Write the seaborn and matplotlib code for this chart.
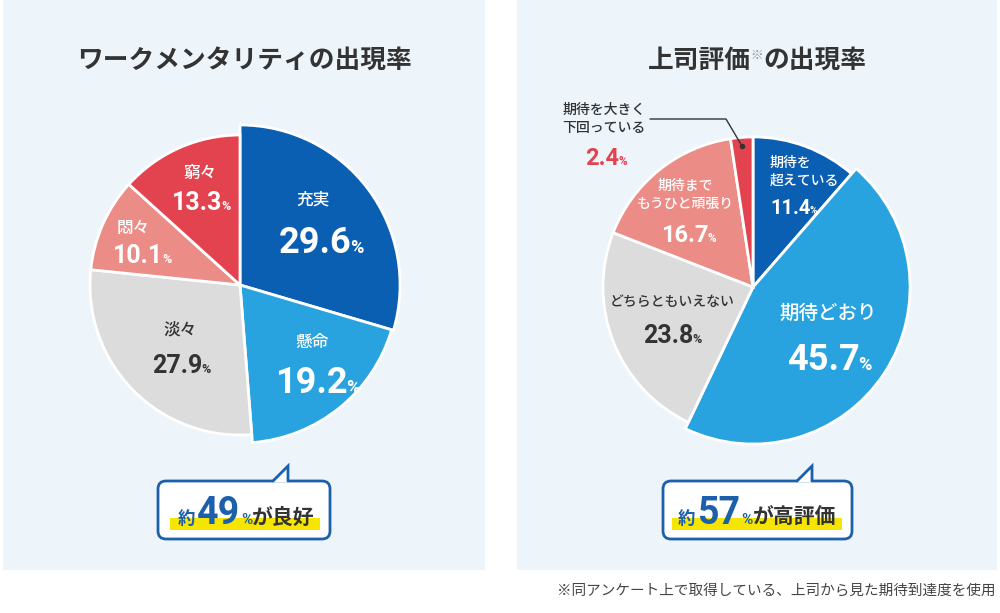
import matplotlib
matplotlib.use('Agg')
import matplotlib.pyplot as plt
from matplotlib.patches import Rectangle, FancyBboxPatch, Polygon
import seaborn as sns

# ---------------- data ----------------
left_title = 'ワークメンタリティの出現率'
left_labels = ['充実', '懸命', '淡々', '悶々', '窮々']
left_values = [29.6, 19.2, 27.9, 10.1, 13.3]

right_title_parts = ['上司評価', '※', 'の出現率']
right_labels = ['期待を\n超えている', '期待どおり', 'どちらともいえない',
                '期待まで\nもうひと頑張り', '期待を大きく\n下回っている']
right_values = [11.4, 45.7, 23.8, 16.7, 2.4]

left_callout = ['約', '49', '%', 'が良好']
right_callout = ['約', '57', '%', 'が高評価']
footnote = '※同アンケート上で取得している、上司から見た期待到達度を使用'

# ---------------- style ----------------
sns.set_theme(style='white')
JP = ['Noto Sans CJK JP', 'DejaVu Sans']
NUMF = ['Roboto', 'DejaVu Sans']
plt.rcParams['font.family'] = JP

palette = sns.color_palette(['#0b5fb3', '#29a3df', '#dcdcdc', '#ec8c87', '#e3434f'])
DARK = '#333333'
BLUE = '#1c5faa'
RED = '#e3434f'
PANEL = '#edf5fb'

W, H = 1000, 613
fig = plt.figure(figsize=(W / 100, H / 100), dpi=100)
fig.patch.set_facecolor('white')
ax = fig.add_axes([0, 0, 1, 1])


def Y(p):
    return H - p


renderer = fig.canvas.get_renderer()


def rich(x, y, parts, ha='center'):
    """parts: (text, props, dy, kern-before)"""
    ts, ws, ks = [], [], []
    for s, kw, dy, k in parts:
        t = ax.text(0, Y(y + dy), s, ha='left', va='baseline', zorder=6, **kw)
        ws.append(t.get_window_extent(renderer).width)
        ts.append(t)
        ks.append(k)
    total = sum(ws) + sum(ks)
    cur = x - total / 2 if ha == 'center' else x
    for t, w, k in zip(ts, ws, ks):
        cur += k
        t.set_x(cur)
        cur += w


# panels
ax.add_patch(Rectangle((3, Y(570)), 482, 570, facecolor=PANEL, edgecolor='none', zorder=0))
ax.add_patch(Rectangle((517, Y(570)), 480, 570, facecolor=PANEL, edgecolor='none', zorder=0))

# ---------------- pies ----------------
wl, _ = ax.pie(left_values, colors=palette, startangle=90, counterclock=False,
               center=(240, Y(285)), radius=150, explode=[0.06, 0.08, 0, 0, 0],
               wedgeprops=dict(edgecolor='white', linewidth=2), frame=True)
wl[0].set_radius(160)
wl[1].set_radius(158)

wr, _ = ax.pie(right_values, colors=palette, startangle=90, counterclock=False,
               center=(753, Y(287)), radius=150, explode=[0.1, 0.1, 0, 0, 0],
               wedgeprops=dict(edgecolor='white', linewidth=2), frame=True)
wr[1].set_radius(157)
for w in list(wl) + list(wr):
    w.set_zorder(2)

ax.set_xlim(0, W)
ax.set_ylim(0, H)
ax.set_aspect('auto')
ax.axis('off')

# ---------------- titles ----------------
tkw = dict(family=JP, weight='bold', fontsize=18.5, color=DARK)
rich(245, 68, [(left_title, tkw, 0, 0)])
rich(757, 68, [(right_title_parts[0], tkw, 0, 0),
               (right_title_parts[1], dict(family=JP, fontsize=9, color='#888888'), -9, 0),
               (right_title_parts[2], tkw, 0, 0)])


# ---------------- slice labels ----------------
def lab(x, y, s, color='white', size=12, ha='center', weight='medium'):
    ax.text(x, Y(y), s, ha=ha, va='center', fontsize=size, color=color,
            family=JP, weight=weight, linespacing=1.35, zorder=6)


def pct(x, y, v, color='white', size=26, ha='center'):
    rich(x, y, [(f'{v}', dict(family=NUMF, weight='bold', fontsize=size, color=color), 0, 0),
                ('%', dict(family=NUMF, weight='bold', fontsize=size * 0.5, color=color), 0,
                 -0.06 * size)],
         ha=ha)


# left
lab(313, 200, left_labels[0])
pct(321, 253, left_values[0], size=26)
lab(312, 342, left_labels[1])
pct(317, 393, left_values[1], size=26)
lab(180, 330, left_labels[2], color=DARK)
pct(181, 373, left_values[2], color=DARK, size=18)
lab(133, 228, left_labels[3])
pct(142, 263, left_values[3], size=18)
lab(200, 173, left_labels[4])
pct(201, 210, left_values[4], size=18)

# right
lab(770, 172, right_labels[0], size=10, ha='left')
pct(770, 214, right_values[0], size=14.5, ha='left')
lab(828, 313, right_labels[1], size=14)
pct(829, 370, right_values[1], size=26)
lab(672, 302, right_labels[2], color=DARK, size=10)
pct(672, 343, right_values[2], color=DARK, size=18)
lab(685, 195, right_labels[3], size=10)
pct(689, 242, right_values[3], size=17)
lab(604, 119, right_labels[4], color=DARK, size=10)
pct(606, 165, right_values[4], color=RED, size=17)

# leader line for the small slice
ax.plot([650, 726, 742], [Y(119), Y(119), Y(146)], color=DARK, lw=1, zorder=5)
ax.plot([742], [Y(146)], 'o', color=DARK, ms=3, zorder=5)


# ---------------- callouts ----------------
def callout(x0, x1, tail_x, parts, cx, hl0, hl1):
    y0, y1 = 481, 539
    ax.add_patch(FancyBboxPatch((x0, Y(y1)), x1 - x0, y1 - y0,
                                boxstyle='round,pad=0,rounding_size=8',
                                facecolor='white', edgecolor=BLUE, lw=2, zorder=3))
    ax.add_patch(Polygon([(tail_x - 15, Y(y0 + 1.5)), (tail_x, Y(466)), (tail_x, Y(y0 + 1.5))],
                         closed=True, facecolor='white', edgecolor='none', zorder=4))
    ax.plot([tail_x - 15, tail_x, tail_x], [Y(y0), Y(466), Y(y0)], color=BLUE, lw=2,
            solid_joinstyle='miter', zorder=4)
    ax.add_patch(Rectangle((hl0, Y(530)), hl1 - hl0, 12, facecolor='#f6e500',
                           edgecolor='none', zorder=4))
    rich(cx, 524, [(parts[0], dict(family=JP, weight='bold', fontsize=12.5, color=BLUE), 0, 0),
                   (parts[1], dict(family=NUMF, weight='bold', fontsize=27, color=BLUE), 0, 2),
                   (parts[2], dict(family=NUMF, weight='bold', fontsize=11, color=BLUE), 0, 1),
                   (parts[3], dict(family=JP, weight='bold', fontsize=15, color=DARK), 0, 0)])


callout(158, 330, 288, left_callout, 246, 170, 320)
callout(663, 852, 812, right_callout, 757, 672, 842)

# footnote
ax.text(996, Y(591), footnote, ha='right', va='center', fontsize=10.5,
        color='#444444', family=JP, zorder=6)

fig.savefig('out.png', dpi=100, facecolor='white')
